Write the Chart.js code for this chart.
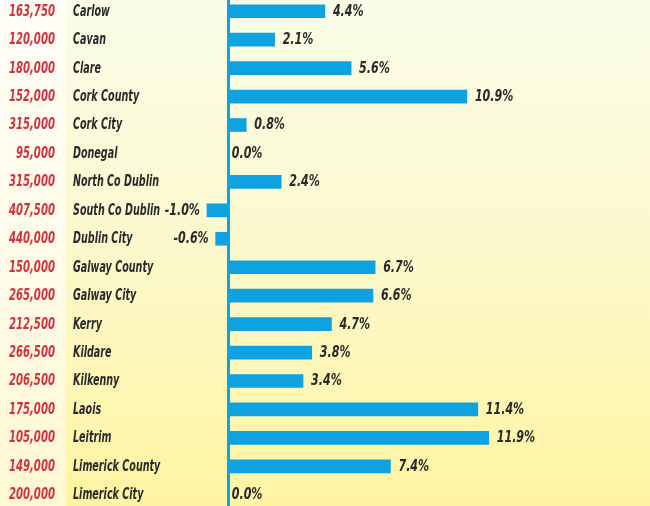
<!DOCTYPE html>
<html>
<head>
<meta charset="utf-8">
<script src="https://cdn.jsdelivr.net/npm/chart.js@4/dist/chart.umd.min.js"></script>
<style>
  html, body { margin: 0; padding: 0; }
  body {
    width: 650px; height: 506px; overflow: hidden; position: relative;
    background: linear-gradient(to bottom, #fafde8 0%, #fcf9cf 45%, #fff4a2 100%);
  }
  #panel {
    position: absolute; left: 0; top: 0; width: 66px; height: 506px;
    background: linear-gradient(to bottom, #fffef8 0%, #fffbe6 60%, #fff8d4 100%);
  }
  #wrap { position: absolute; left: 0; top: -3px; width: 650px; height: 512px; }
</style>
</head>
<body>
<div id="panel"></div>
<div id="wrap"><canvas id="priceChart"></canvas></div>
<script>
// data
const areas = ['Carlow', 'Cavan', 'Clare', 'Cork County', 'Cork City', 'Donegal',
  'North Co Dublin', 'South Co Dublin', 'Dublin City', 'Galway County', 'Galway City',
  'Kerry', 'Kildare', 'Kilkenny', 'Laois', 'Leitrim', 'Limerick County', 'Limerick City'];
const prices = ['163,750', '120,000', '180,000', '152,000', '315,000', '95,000',
  '315,000', '407,500', '440,000', '150,000', '265,000', '212,500', '266,500',
  '206,500', '175,000', '105,000', '149,000', '200,000'];
const change = [4.4, 2.1, 5.6, 10.9, 0.8, 0.0, 2.4, -1.0, -0.6, 6.7, 6.6, 4.7, 3.8, 3.4, 11.4, 11.9, 7.4, 0.0];

const blue = '#0fa2e0';
const textFont = "italic bold 15px 'DejaVu Sans Condensed', 'Liberation Sans', sans-serif";

// condensed look: squeeze the text horizontally
function squeezed(ctx, txt, x, y, sx, align) {
  ctx.save();
  ctx.translate(x, y);
  ctx.scale(sx, 1);
  ctx.textAlign = align;
  ctx.fillText(txt, 0, 0);
  ctx.restore();
}

const labelPlugin = {
  id: 'rowLabels',
  afterDatasetsDraw(chart) {
    const ctx = chart.ctx;
    const x = chart.scales.x, y = chart.scales.y;
    ctx.save();
    ctx.font = textFont;
    ctx.textBaseline = 'middle';
    areas.forEach((name, i) => {
      const py = y.getPixelForValue(i) + 0.5;
      ctx.fillStyle = '#d2323c';
      squeezed(ctx, prices[i], 55, py, 0.75, 'right');
      ctx.fillStyle = '#2a2a2a';
      squeezed(ctx, name, 73, py, 0.71, 'left');
      const v = change[i];
      const txt = v.toFixed(1) + '%';
      if (v < 0) {
        squeezed(ctx, txt, x.getPixelForValue(v) - 7, py, 0.82, 'right');
      } else {
        squeezed(ctx, txt, x.getPixelForValue(v) + (v === 0 ? 3 : 8), py, 0.82, 'left');
      }
    });
    ctx.restore();
  }
};

new Chart(document.getElementById('priceChart'), {
  type: 'bar',
  data: {
    labels: areas,
    datasets: [{
      data: change,
      backgroundColor: blue,
      barThickness: 13,
      borderWidth: 0
    }]
  },
  options: {
    indexAxis: 'y',
    responsive: true,
    maintainAspectRatio: false,
    animation: false,
    layout: { padding: { left: 196, right: 28, top: 0, bottom: 0 } },
    plugins: { legend: { display: false }, tooltip: { enabled: false } },
    scales: {
      x: {
        min: -1.5, max: 18,
        ticks: { display: false },
        border: { display: false },
        grid: {
          drawTicks: false,
          color: c => c.tick && c.tick.value === 0 ? blue : 'rgba(0,0,0,0)',
          lineWidth: 3
        },
        afterBuildTicks: s => { s.ticks = [{ value: 0 }]; }
      },
      y: {
        display: false
      }
    }
  },
  plugins: [labelPlugin]
});
</script>
</body>
</html>
